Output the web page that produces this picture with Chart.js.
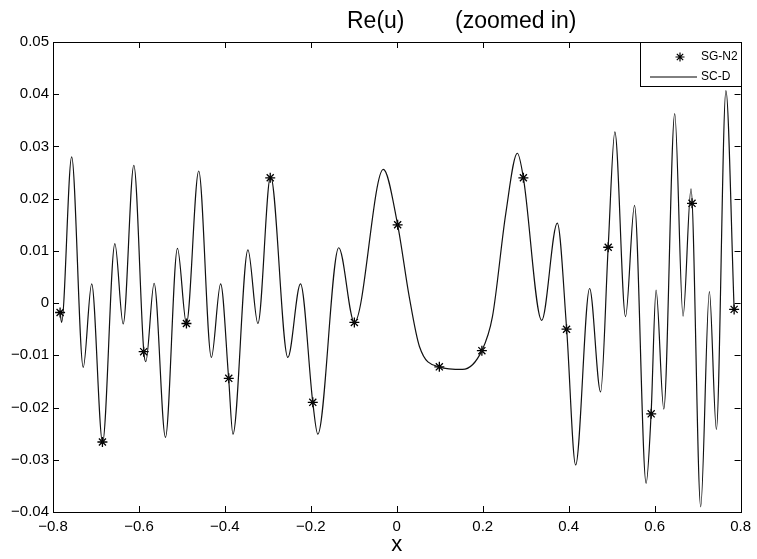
<!DOCTYPE html>
<html>
<head>
<meta charset="utf-8">
<script src="https://cdn.jsdelivr.net/npm/chart.js@4/dist/chart.umd.min.js"></script>
<style>
  body { margin: 0; background: #fff; }
  #wrap { width: 757px; height: 559px; }
</style>
</head>
<body>
<div id="wrap"><canvas id="grafico" width="757" height="559"></canvas></div>
<script>
// curva SC-D
const curveX = [-0.7835, -0.780, -0.7566, -0.7296, -0.710, -0.6846, -0.656, -0.6367, -0.6119, -0.5887,
  -0.584, -0.5647, -0.5383, -0.5104, -0.4895, -0.4609, -0.4315, -0.4099, -0.3913, -0.3813,
  -0.3464, -0.3232, -0.2937, -0.2535, -0.2241, -0.1955, -0.1838, -0.1351, -0.0987, -0.0313,
  0.002, 0.029, 0.0527, 0.099, 0.153, 0.198, 0.2226, 0.2537, 0.2806, 0.2946,
  0.3372, 0.3735, 0.3953, 0.4162, 0.4487, 0.4743, 0.4919, 0.5075, 0.5323, 0.5532,
  0.5802, 0.5918, 0.6034, 0.6213, 0.6468, 0.6661, 0.6847, 0.7072, 0.7274, 0.7437,
  0.7659, 0.785];
const curveY = [-0.0018, -0.0037, 0.0280, -0.0123, 0.0037, -0.0267, 0.0114, -0.0040, 0.0264, -0.0093,
  -0.0112, 0.0038, -0.0257, 0.0105, -0.0039, 0.0253, -0.0104, 0.0037, -0.0144, -0.0251,
  0.0102, -0.0039, 0.0243, -0.0104, 0.0037, -0.0190, -0.0251, 0.0106, -0.0037, 0.0256,
  0.0150, 0.0012, -0.0083, -0.0122, -0.0127, -0.0091, -0.0026, 0.0172, 0.0287, 0.0240,
  -0.0033, 0.0153, -0.0050, -0.0310, 0.0028, -0.0170, 0.0107, 0.0328, -0.0026, 0.0187,
  -0.0345, -0.0212, 0.0025, -0.0203, 0.0363, -0.0025, 0.0219, -0.0390, 0.0022, -0.0242,
  0.0407, -0.0012];

// marcadores SG-N2
const starX = [-0.7835, -0.685, -0.589, -0.4895, -0.391, -0.2945, -0.1955, -0.0987, 0.002,
  0.099, 0.198, 0.2946, 0.395, 0.492, 0.592, 0.687, 0.785];
const starY = [-0.0018, -0.0266, -0.0093, -0.0039, -0.0144, 0.0240, -0.0190, -0.0037, 0.0150,
  -0.0122, -0.0091, 0.0240, -0.0050, 0.0107, -0.0212, 0.0191, -0.0012];

const xTicks = [-0.8, -0.6, -0.4, -0.2, 0, 0.2, 0.4, 0.6, 0.8];
const yTicks = [-0.04, -0.03, -0.02, -0.01, 0, 0.01, 0.02, 0.03, 0.04, 0.05];

const FONT = "'Liberation Sans', Arial, Helvetica, sans-serif";

function fmt(v, d) {
  if (Math.abs(v) < 1e-9) return '0';
  return (v < 0 ? '\u2212' : '') + Math.abs(v).toFixed(d);
}

function drawStar(ctx, x, y, r) {
  ctx.beginPath();
  for (let i = 0; i < 4; i++) {
    const a = i * Math.PI / 4;
    ctx.moveTo(x - r * Math.cos(a), y - r * Math.sin(a));
    ctx.lineTo(x + r * Math.cos(a), y + r * Math.sin(a));
  }
  ctx.stroke();
}

// moldura, ticks para dentro, titulo, legenda
const moldura = {
  id: 'moldura',
  afterDraw(chart) {
    const ctx = chart.ctx;
    const a = chart.chartArea;
    const sx = chart.scales.x, sy = chart.scales.y;
    ctx.save();
    ctx.strokeStyle = '#000';
    ctx.lineWidth = 1;
    ctx.strokeRect(Math.round(a.left) + 0.5, Math.round(a.top) + 0.5,
      Math.round(a.right - a.left), Math.round(a.bottom - a.top));

    const tl = 6;
    ctx.beginPath();
    xTicks.forEach(v => {
      const px = Math.round(sx.getPixelForValue(v)) + 0.5;
      ctx.moveTo(px, a.bottom); ctx.lineTo(px, a.bottom - tl);
      ctx.moveTo(px, a.top); ctx.lineTo(px, a.top + tl);
    });
    yTicks.forEach(v => {
      const py = Math.round(sy.getPixelForValue(v)) + 0.5;
      ctx.moveTo(a.left, py); ctx.lineTo(a.left + tl, py);
      ctx.moveTo(a.right, py); ctx.lineTo(a.right - tl, py);
    });
    ctx.stroke();

    // titulo
    ctx.fillStyle = '#000';
    ctx.font = '23px ' + FONT;
    ctx.textBaseline = 'alphabetic';
    ctx.textAlign = 'left';
    ctx.fillText('Re(u)', 347, 28);
    ctx.fillText('(zoomed in)', 455, 28);

    // rotulo eixo x
    ctx.font = '22px ' + FONT;
    ctx.textAlign = 'center';
    ctx.fillText('x', (a.left + a.right) / 2, 551);

    // legenda
    const lx = 640, ly = a.top;
    ctx.fillStyle = '#fff';
    ctx.fillRect(lx, ly, a.right - lx, 44);
    ctx.strokeRect(lx + 0.5, Math.round(ly) + 0.5, Math.round(a.right - lx), 44);
    ctx.lineWidth = 1.2;
    drawStar(ctx, 680, ly + 15, 4.5);
    ctx.lineWidth = 1;
    ctx.beginPath();
    ctx.moveTo(650, ly + 35); ctx.lineTo(697, ly + 35);
    ctx.stroke();
    ctx.fillStyle = '#000';
    ctx.font = '12px ' + FONT;
    ctx.textAlign = 'left';
    ctx.textBaseline = 'middle';
    ctx.fillText('SG-N2', 701, ly + 15);
    ctx.fillText('SC-D', 701, ly + 35);
    ctx.restore();
  }
};

new Chart(document.getElementById('grafico'), {
  type: 'line',
  data: {
    datasets: [{
      label: 'SC-D',
      data: curveX.map((x, i) => ({ x: x, y: curveY[i] })),
      borderColor: '#111',
      borderWidth: 1.2,
      pointRadius: 0,
      fill: false,
      cubicInterpolationMode: 'monotone'
    }, {
      label: 'SG-N2',
      data: starX.map((x, i) => ({ x: x, y: starY[i] })),
      showLine: false,
      pointStyle: 'star',
      pointRadius: 5,
      borderColor: '#000',
      backgroundColor: '#000',
      pointBorderWidth: 1.3
    }]
  },
  options: {
    responsive: false,
    animation: false,
    layout: { padding: { top: 42, right: 15, left: 0, bottom: 0 } },
    plugins: {
      legend: { display: false },
      title: { display: false },
      tooltip: { enabled: false }
    },
    scales: {
      x: {
        type: 'linear',
        min: -0.8, max: 0.8,
        afterFit: s => { s.height = 47; },
        afterBuildTicks: s => { s.ticks = xTicks.map(v => ({ value: v })); },
        grid: { display: false, drawTicks: false },
        border: { display: false },
        ticks: {
          padding: 6,
          color: '#000',
          font: { family: FONT, size: 15 },
          maxRotation: 0,
          callback: v => fmt(v, 1)
        }
      },
      y: {
        type: 'linear',
        min: -0.04, max: 0.05,
        afterFit: s => { s.width = 53; },
        afterBuildTicks: s => { s.ticks = yTicks.map(v => ({ value: v })); },
        grid: { display: false, drawTicks: false },
        border: { display: false },
        ticks: {
          padding: 4,
          color: '#000',
          font: { family: FONT, size: 15 },
          callback: v => fmt(v, 2)
        }
      }
    }
  },
  plugins: [moldura]
});
</script>
</body>
</html>
